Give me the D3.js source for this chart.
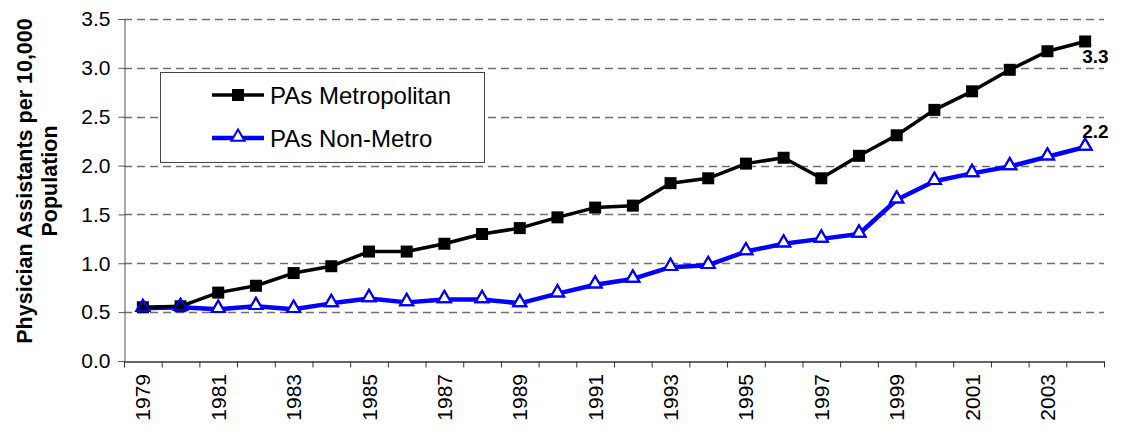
<!DOCTYPE html>
<html>
<head>
<meta charset="utf-8">
<script src="https://cdn.jsdelivr.net/npm/d3@7/dist/d3.min.js"></script>
<style>
  html, body { margin: 0; padding: 0; background: #fff; }
  svg { display: block; font-family: "Liberation Sans", Arial, sans-serif; }
</style>
</head>
<body>
<svg id="chart" width="1127" height="429"></svg>
<script>
const years = [1979,1980,1981,1982,1983,1984,1985,1986,1987,1988,1989,1990,1991,1992,1993,1994,1995,1996,1997,1998,1999,2000,2001,2002,2003,2004];
const metro = [0.55,0.56,0.70,0.77,0.90,0.97,1.12,1.12,1.20,1.30,1.36,1.47,1.57,1.59,1.82,1.87,2.02,2.08,1.87,2.10,2.31,2.57,2.76,2.98,3.17,3.27];
const nonMetro = [0.54,0.55,0.53,0.56,0.53,0.59,0.64,0.60,0.63,0.63,0.59,0.69,0.78,0.84,0.96,0.98,1.12,1.20,1.25,1.30,1.65,1.84,1.92,1.99,2.09,2.19];
const yTicks = [0,0.5,1.0,1.5,2.0,2.5,3.0,3.5];
const xLabelYears = [1979,1981,1983,1985,1987,1989,1991,1993,1995,1997,1999,2001,2003];
const seriesNames = ["PAs Metropolitan","PAs Non-Metro"];
const endLabels = ["3.3","2.2"];
const yTitle = ["Physician Assistants per 10,000","Population"];

(function () {
const svg = d3.select("#chart");
const pL = 124, pR = 1104, pT = 19, pB = 361;

const x = d3.scaleBand().domain(years).range([pL, pR]).padding(0);
const xi = d3.scaleLinear().domain([0, years.length]).range([pL, pR]);
const y = d3.scaleLinear().domain([0, 3.5]).range([pB, pT]);
const cx = d => x(d) + x.bandwidth() / 2;

// gridlines
svg.append("g").selectAll("line").data(yTicks.filter(v => v > 0)).join("line")
  .attr("x1", pL).attr("x2", pR)
  .attr("y1", d => Math.round(y(d)) + 0.5).attr("y2", d => Math.round(y(d)) + 0.5)
  .attr("stroke", "#707070").attr("stroke-width", 1.3).attr("stroke-dasharray", "8,5");

// y axis
const yAxis = svg.append("g").attr("transform", `translate(${pL + 0.5},0)`)
  .call(d3.axisLeft(y).tickValues(yTicks).tickFormat(d3.format(".1f")).tickSize(6).tickPadding(8));
yAxis.select(".domain").attr("stroke", "#555");
yAxis.selectAll(".tick line").attr("stroke", "#555");
yAxis.selectAll("text").attr("font-size", 21).attr("fill", "#000").attr("font-family", "Liberation Sans, Arial, sans-serif");

// x axis ticks at category boundaries
const xAxis = svg.append("g").attr("transform", `translate(0,${pB + 0.5})`)
  .call(d3.axisBottom(xi).tickValues(d3.range(0, years.length + 1)).tickFormat("").tickSize(6).tickSizeOuter(0));
xAxis.select(".domain").attr("stroke", "#333").attr("stroke-width", 1.3);
xAxis.selectAll(".tick line").attr("stroke", "#333");

// x labels
svg.append("g").selectAll("text").data(xLabelYears).join("text")
  .attr("transform", d => `translate(${cx(d) + 7.5},${pB + 13}) rotate(-90)`)
  .attr("text-anchor", "end").attr("font-size", 21).attr("fill", "#000")
  .text(d => d);

// y title
yTitle.forEach((t, i) => {
  svg.append("text")
    .attr("transform", `translate(${32 + i * 25},181) rotate(-90)`)
    .attr("text-anchor", "middle").attr("font-size", 21.5).attr("font-weight", "bold")
    .text(t);
});

const line = d3.line().x((d, i) => cx(years[i])).y(d => y(d));
const tri = d3.symbol().type(d3.symbolTriangle).size(75);

// non-metro line + filled triangles
svg.append("path").datum(nonMetro).attr("d", line)
  .attr("fill", "none").attr("stroke", "#0000FF").attr("stroke-width", 4.5).attr("stroke-linejoin", "round");
svg.append("g").selectAll("path").data(nonMetro).join("path")
  .attr("d", tri).attr("transform", (d, i) => `translate(${cx(years[i])},${y(d) - 1})`)
  .attr("fill", "#fff").attr("stroke", "#0000FF").attr("stroke-width", 2);

// metro line + squares
svg.append("path").datum(metro).attr("d", line)
  .attr("fill", "none").attr("stroke", "#000").attr("stroke-width", 3.5).attr("stroke-linejoin", "round");
svg.append("g").selectAll("rect").data(metro).join("rect")
  .attr("x", (d, i) => cx(years[i]) - 6).attr("y", d => y(d) - 6)
  .attr("width", 12).attr("height", 12).attr("fill", "#000");

// triangle outlines on top
svg.append("g").selectAll("path").data(nonMetro).join("path")
  .attr("d", tri).attr("transform", (d, i) => `translate(${cx(years[i])},${y(d) - 1})`)
  .attr("fill", "none").attr("stroke", "#0000FF").attr("stroke-width", 2);

// end labels
const last = years.length - 1;
svg.append("text").attr("x", cx(years[last]) - 3).attr("y", y(metro[last]) + 22)
  .attr("font-size", 19).attr("font-weight", "bold").text(endLabels[0]);
svg.append("text").attr("x", cx(years[last]) - 3).attr("y", y(nonMetro[last]) - 9)
  .attr("font-size", 19).attr("font-weight", "bold").text(endLabels[1]);

// legend
const lg = svg.append("g");
lg.append("rect").attr("x", 160.5).attr("y", 72.5).attr("width", 324).attr("height", 90)
  .attr("fill", "#fff").attr("stroke", "#444").attr("stroke-width", 1);
[95, 138].forEach((ly, i) => {
  lg.append("line").attr("x1", 212).attr("x2", 264).attr("y1", ly).attr("y2", ly)
    .attr("stroke", i === 0 ? "#000" : "#0000FF").attr("stroke-width", i === 0 ? 3.5 : 4.5);
  if (i === 0) {
    lg.append("rect").attr("x", 232).attr("y", ly - 6).attr("width", 12).attr("height", 12).attr("fill", "#000");
  } else {
    lg.append("path").attr("d", tri).attr("transform", `translate(238,${ly - 1})`)
      .attr("fill", "#fff").attr("stroke", "#0000FF").attr("stroke-width", 2);
  }
  lg.append("text").attr("x", 270).attr("y", ly + 8.5).attr("font-size", 24).text(seriesNames[i]);
});
})();
</script>
</body>
</html>
